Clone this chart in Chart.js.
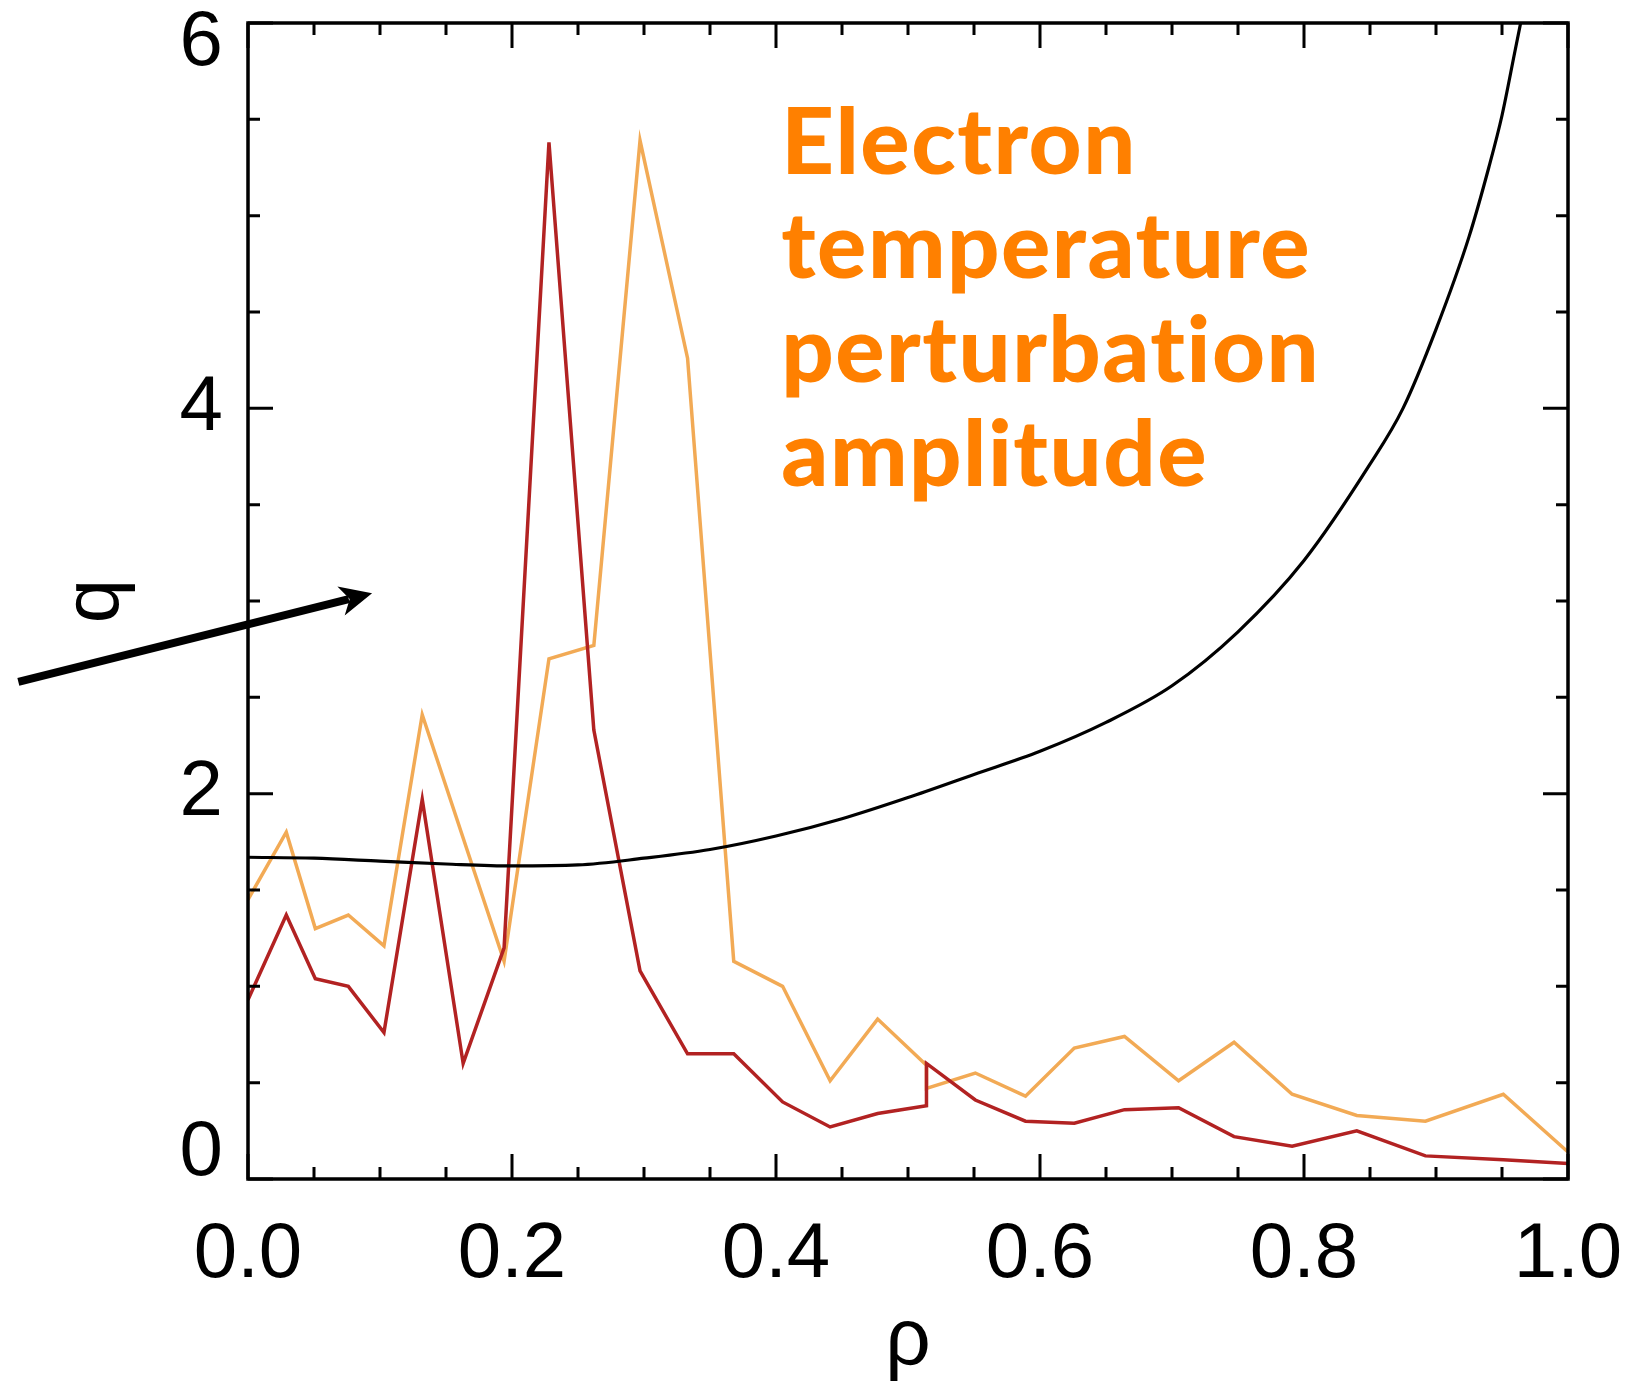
<!DOCTYPE html>
<html>
<head>
<meta charset="utf-8">
<title>q profile and Te perturbation amplitude</title>
<script src="https://cdn.jsdelivr.net/npm/chart.js@4.4.1/dist/chart.umd.min.js"></script>
<style>
  html, body { margin: 0; padding: 0; background: #ffffff; }
  #wrap { width: 1632px; height: 1388px; }
</style>
</head>
<body>
<div id="wrap"><canvas id="qChart" width="1632" height="1388"></canvas></div>
<script>
// ==========================================
// q profile + electron temperature perturbation
// ==========================================

// safety factor profile q(rho)
const rhoQ = [0, 0.05, 0.10, 0.15, 0.20, 0.25, 0.30, 0.35, 0.40, 0.45, 0.50, 0.55, 0.60,
              0.65, 0.70, 0.75, 0.80, 0.85, 0.875, 0.90, 0.925, 0.94, 0.95, 0.96, 0.97];
const qProfile = [1.67, 1.665, 1.65, 1.635, 1.625, 1.63, 1.665, 1.71, 1.78, 1.87, 1.98, 2.10, 2.22,
                  2.37, 2.56, 2.84, 3.21, 3.71, 4.00, 4.41, 4.89, 5.25, 5.52, 5.86, 6.20];

// perturbation amplitude, dark red trace
const rhoRed = [0, 0.029, 0.051, 0.076, 0.103, 0.132, 0.163, 0.194, 0.228, 0.262, 0.297, 0.333,
                0.368, 0.405, 0.441, 0.477, 0.514, 0.514, 0.551, 0.589, 0.626, 0.664, 0.705,
                0.747, 0.791, 0.840, 0.892, 0.951, 1.0];
const ampRed = [0.93, 1.37, 1.04, 1.00, 0.76, 1.97, 0.60, 1.20, 5.38, 2.33, 1.08, 0.65,
                0.65, 0.40, 0.27, 0.34, 0.38, 0.60, 0.41, 0.30, 0.29, 0.36, 0.37,
                0.22, 0.17, 0.25, 0.12, 0.10, 0.08];

// perturbation amplitude, light orange trace
const rhoOrange = [0, 0.029, 0.051, 0.076, 0.103, 0.132, 0.194, 0.228, 0.262, 0.297, 0.333,
                   0.368, 0.405, 0.441, 0.477, 0.514, 0.514, 0.551, 0.589, 0.626, 0.664, 0.705,
                   0.747, 0.791, 0.840, 0.892, 0.951, 1.0];
const ampOrange = [1.45, 1.80, 1.30, 1.37, 1.21, 2.41, 1.13, 2.70, 2.77, 5.39, 4.26,
                   1.13, 1.00, 0.51, 0.83, 0.59, 0.47, 0.55, 0.43, 0.68, 0.74, 0.51,
                   0.71, 0.44, 0.33, 0.30, 0.44, 0.14];

// tick labels
const xTickLabels = ["0.0", "0.2", "0.4", "0.6", "0.8", "1.0"];
const yTickLabels = ["0", "2", "4", "6"];

// annotation text
const noteLines = ["Electron", "temperature", "perturbation", "amplitude"];

const FONT = '"Liberation Sans", Arial, Helvetica, sans-serif';

function toPoints(xs, ys){
    return xs.map((x, i) => ({x: x, y: ys[i]}));
}

function labelFor(list, value){
    const hit = list.find(l => Math.abs(Number(l) - value) < 1e-6);
    return hit === undefined ? "" : hit;
}

// =====================================
// frame, inward ticks, y labels, arrow, note
// =====================================

// annotation anchors in data units
const arrowTail = {x: -0.174, y: 2.58};
const arrowTip = {x: 0.094, y: 3.04};
const noteAnchor = {x: 0.404, y: 5.215};

const frameAndNotes = {

    id: "frameAndNotes",

    afterDraw(chart){

        const {ctx, chartArea: area} = chart;
        const xs = chart.scales.x;
        const ys = chart.scales.y;

        ctx.save();

        // ticks on all four sides
        ctx.strokeStyle = "#000";
        ctx.lineWidth = 3;
        ctx.beginPath();

        xs.ticks.forEach(t => {
            const px = xs.getPixelForValue(t.value);
            const len = labelFor(xTickLabels, t.value) ? 25 : 12;
            ctx.moveTo(px, area.bottom);
            ctx.lineTo(px, area.bottom - len);
            ctx.moveTo(px, area.top);
            ctx.lineTo(px, area.top + len);
        });

        ys.ticks.forEach(t => {
            const py = ys.getPixelForValue(t.value);
            const len = labelFor(yTickLabels, t.value) ? 25 : 12;
            ctx.moveTo(area.left, py);
            ctx.lineTo(area.left + len, py);
            ctx.moveTo(area.right, py);
            ctx.lineTo(area.right - len, py);
        });

        ctx.stroke();

        ctx.lineWidth = 3.5;
        ctx.strokeRect(area.left, area.top, area.right - area.left, area.bottom - area.top);

        // y tick labels (end labels pulled inside the frame)
        ctx.fillStyle = "#000";
        ctx.font = "78px " + FONT;
        ctx.textAlign = "right";
        ctx.textBaseline = "middle";

        yTickLabels.forEach(lbl => {
            let py = ys.getPixelForValue(Number(lbl));
            if(py - area.top < 5) py = area.top + 20;
            if(area.bottom - py < 5) py = area.bottom - 26;
            ctx.fillText(lbl, area.left - 25, py);
        });

        // arrow pointing at the q curve
        const p0 = {x: xs.getPixelForValue(arrowTail.x), y: ys.getPixelForValue(arrowTail.y)};
        const p1 = {x: xs.getPixelForValue(arrowTip.x), y: ys.getPixelForValue(arrowTip.y)};
        const ang = Math.atan2(p1.y - p0.y, p1.x - p0.x);
        const c = Math.cos(ang), s = Math.sin(ang);
        const headLen = 32, headHalf = 15;

        ctx.lineWidth = 8;
        ctx.beginPath();
        ctx.moveTo(p0.x, p0.y);
        ctx.lineTo(p1.x - (headLen - 8) * c, p1.y - (headLen - 8) * s);
        ctx.stroke();

        ctx.fillStyle = "#000";
        ctx.beginPath();
        ctx.moveTo(p1.x, p1.y);
        ctx.lineTo(p1.x - headLen * c + headHalf * s, p1.y - headLen * s - headHalf * c);
        ctx.lineTo(p1.x - headLen * 0.72 * c, p1.y - headLen * 0.72 * s);
        ctx.lineTo(p1.x - headLen * c - headHalf * s, p1.y - headLen * s + headHalf * c);
        ctx.closePath();
        ctx.fill();

        // orange note
        ctx.fillStyle = "#FF8000";
        ctx.font = "900 92px Lato, 'DejaVu Sans', sans-serif";
        ctx.letterSpacing = "1.5px";
        ctx.textAlign = "left";
        ctx.textBaseline = "alphabetic";

        const nx = xs.getPixelForValue(noteAnchor.x);
        const ny = ys.getPixelForValue(noteAnchor.y);

        noteLines.forEach((line, i) => {
            ctx.fillText(line, nx, ny + i * 104);
        });

        ctx.restore();

    }

};

// =====================================
// chart
// =====================================

new Chart(

    document.getElementById("qChart"),

    {

        type: "line",

        data: {

            datasets: [

                {
                    label: "q",
                    data: toPoints(rhoQ, qProfile),
                    borderColor: "#000000",
                    borderWidth: 3.2,
                    pointRadius: 0,
                    cubicInterpolationMode: "monotone"
                },

                {
                    label: "Te amplitude (red)",
                    data: toPoints(rhoRed, ampRed),
                    borderColor: "#B22222",
                    borderWidth: 3.5,
                    pointRadius: 0,
                    tension: 0
                },

                {
                    label: "Te amplitude (orange)",
                    data: toPoints(rhoOrange, ampOrange),
                    borderColor: "#F2AA55",
                    borderWidth: 3.5,
                    pointRadius: 0,
                    tension: 0
                }

            ]

        },

        options: {

            responsive: false,
            animation: false,

            layout: {
                padding: {top: 23, right: 64, bottom: 0, left: 0}
            },

            plugins: {
                legend: {display: false},
                tooltip: {enabled: false}
            },

            scales: {

                x: {
                    type: "linear",
                    min: 0,
                    max: 1,
                    afterFit(scale){
                        scale.height = 209;
                        scale.paddingLeft = 0;
                        scale.paddingRight = 0;
                    },
                    grid: {display: false, drawTicks: false},
                    border: {display: false},
                    ticks: {
                        stepSize: 0.05,
                        autoSkip: false,
                        maxRotation: 0,
                        padding: 30,
                        color: "#000",
                        font: {family: FONT, size: 78},
                        callback: (value) => labelFor(xTickLabels, value)
                    },
                    title: {
                        display: true,
                        text: "ρ",
                        color: "#000",
                        font: {family: FONT, size: 80, lineHeight: 1},
                        padding: {top: 0, bottom: 6}
                    }
                },

                y: {
                    type: "linear",
                    min: 0,
                    max: 6,
                    afterFit(scale){ scale.width = 248; },
                    grid: {display: false, drawTicks: false},
                    border: {display: false},
                    ticks: {
                        stepSize: 0.5,
                        display: false
                    },
                    title: {
                        display: true,
                        text: "q",
                        color: "#000",
                        font: {family: FONT, size: 80, lineHeight: 1},
                        padding: {top: 56, bottom: 0}
                    }
                }

            }

        },

        plugins: [frameAndNotes]

    }

);
</script>
</body>
</html>
